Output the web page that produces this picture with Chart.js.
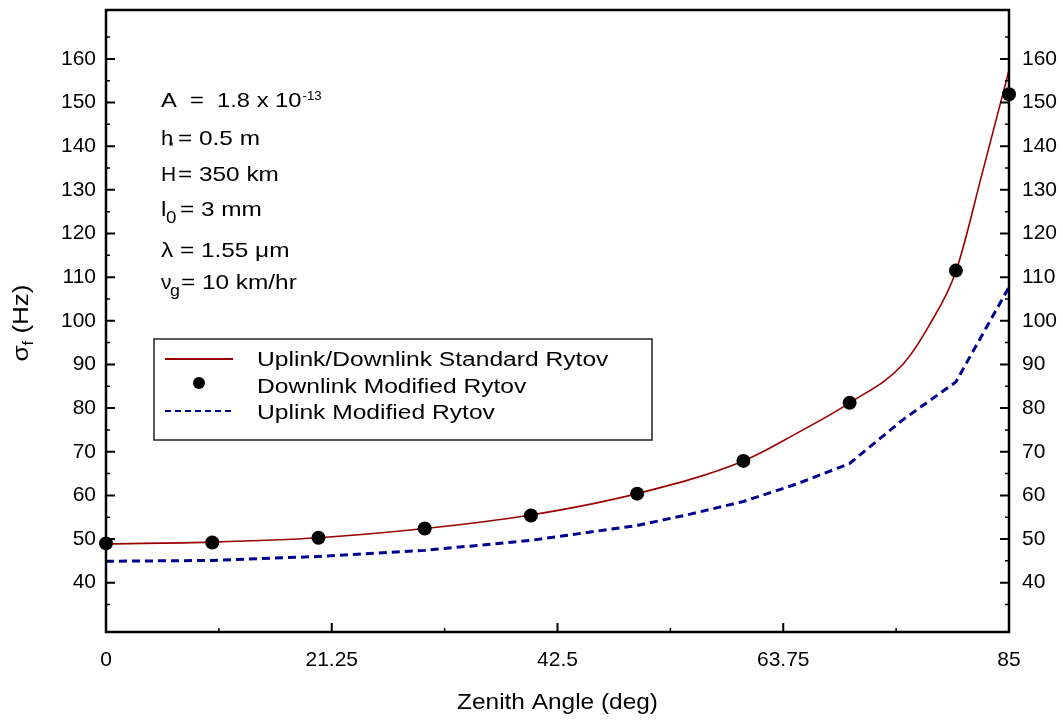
<!DOCTYPE html>
<html>
<head>
<meta charset="utf-8">
<script src="https://cdn.jsdelivr.net/npm/chart.js@4/dist/chart.umd.min.js"></script>
<style>
html,body{margin:0;padding:0;background:#fff;}
#wrap{width:1063px;height:721px;position:relative;}
</style>
</head>
<body>
<div id="wrap"><canvas id="c" width="1063" height="721"></canvas></div>
<script>
// ---- data ----
const dotAngles = [0, 10, 20, 30, 40, 50, 60, 70, 80, 85];
const downlinkModified = [49.0, 49.2, 50.3, 52.4, 55.4, 60.4, 67.9, 81.2, 111.5, 151.9];
const stdAngles = [0, 10, 20, 30, 40, 50, 60, 65, 70, 75, 77.5, 80, 82.5, 85];
const standardRytov = [48.9, 49.3, 50.3, 52.4, 55.5, 60.4, 67.9, 74.2, 81.2, 90.0, 99.0, 111.3, 134.0, 157.4];
const upAngles = [0, 10, 20, 30, 40, 50, 55, 60, 65, 70, 75, 80, 85];
const uplinkModified = [44.9, 45.1, 46.0, 47.4, 49.7, 53.1, 55.7, 58.6, 62.6, 67.3, 77.3, 86.0, 107.7];
const xTickValues = [0, 21.25, 42.5, 63.75, 85];
const xMinorValues = [10.625, 31.875, 53.125, 74.375];
const yTickValues = [40, 50, 60, 70, 80, 90, 100, 110, 120, 130, 140, 150, 160];
const yMinorValues = [35, 45, 55, 65, 75, 85, 95, 105, 115, 125, 135, 145, 155, 165];
const seriesNames = ['Uplink/Downlink Standard Rytov', 'Downlink Modified Rytov', 'Uplink Modified Rytov'];
const xTitle = 'Zenith Angle (deg)';

const FONT = "Arial, 'Liberation Sans', Helvetica, sans-serif";
Chart.defaults.font.family = FONT;
Chart.defaults.color = '#000';

const RED = '#990000', NAVY = '#000090';

function pts(xs, ys){ return xs.map((x,i)=>({x:x, y:ys[i]})); }

// draw horizontally-stretched text, returns x where it ends
function stext(ctx, s, x, y, size, sx){
  ctx.save();
  ctx.translate(x, y);
  ctx.scale(sx, 1);
  ctx.font = size + 'px ' + FONT;
  ctx.fillText(s, 0, 0);
  const w = ctx.measureText(s).width * sx;
  ctx.restore();
  return x + w;
}

const decor = {
  id: 'decor',
  afterDraw(chart){
    const ctx = chart.ctx, a = chart.chartArea;
    const sx = chart.scales.x, sy = chart.scales.y;
    ctx.save();
    // frame
    ctx.strokeStyle = '#000'; ctx.lineWidth = 2.5;
    ctx.strokeRect(a.left, a.top, a.right - a.left, a.bottom - a.top);
    // ticks
    ctx.lineWidth = 2;
    ctx.beginPath();
    yTickValues.forEach(v => { const p = sy.getPixelForValue(v);
      ctx.moveTo(a.left, p); ctx.lineTo(a.left + 9, p);
      ctx.moveTo(a.right, p); ctx.lineTo(a.right - 9, p); });
    xTickValues.forEach(v => { const p = sx.getPixelForValue(v);
      ctx.moveTo(p, a.bottom); ctx.lineTo(p, a.bottom - 9); });
    ctx.stroke();
    ctx.lineWidth = 1.5;
    ctx.beginPath();
    yMinorValues.forEach(v => { const p = sy.getPixelForValue(v);
      ctx.moveTo(a.left, p); ctx.lineTo(a.left + 4, p);
      ctx.moveTo(a.right, p); ctx.lineTo(a.right - 4, p); });
    xMinorValues.forEach(v => { const p = sx.getPixelForValue(v);
      ctx.moveTo(p, a.bottom); ctx.lineTo(p, a.bottom - 4); });
    ctx.stroke();

    ctx.fillStyle = '#000';
    ctx.textAlign = 'left';

    // x-axis title
    ctx.textBaseline = 'middle';
    ctx.font = '22px ' + FONT;
    const xtw = ctx.measureText(xTitle).width * 1.11;
    stext(ctx, xTitle, (a.left + a.right) / 2 - xtw / 2, 703, 22, 1.11);

    // y-axis title
    ctx.save();
    ctx.translate(22, 323);
    ctx.rotate(-Math.PI / 2);
    ctx.textBaseline = 'middle';
    const ysc = 1.18;
    ctx.font = '22px ' + FONT;
    const w1 = ctx.measureText('\u03c3').width * ysc;
    ctx.font = '14px ' + FONT;
    const w2 = ctx.measureText('f').width * ysc;
    ctx.font = '22px ' + FONT;
    const w3 = ctx.measureText(' (Hz)').width * ysc;
    let x0 = -(w1 + w2 + w3) / 2;
    stext(ctx, '\u03c3', x0, 0, 22, ysc);
    stext(ctx, 'f', x0 + w1, 7, 14, ysc);
    stext(ctx, ' (Hz)', x0 + w1 + w2, 0, 22, ysc);
    ctx.restore();

    // parameter text block
    ctx.textBaseline = 'alphabetic';
    const L = 161, S = 21, K = 1.16;
    let e = stext(ctx, 'A  =  1.8 x 10', L, 107, S, 1.13);
    stext(ctx, '-13', e + 1, 100, 12, 1.1);
    stext(ctx, 'h', L, 145, S, 1.05);
    stext(ctx, 'o', 169, 146, 7, 1.1);
    stext(ctx, '= 0.5 m', 178, 145, S, K);
    stext(ctx, 'H', L, 181, S, 1.0);
    stext(ctx, '= 350 km', 178, 181, S, K);
    stext(ctx, 'l', L, 216, S, K);
    stext(ctx, '0', 166, 223, 17, 1.1);
    stext(ctx, '= 3 mm', 180, 216, S, K);
    stext(ctx, '\u03bb = 1.55 \u03bcm', L, 257, S, K);
    stext(ctx, '\u03bd', L, 289, S, 1.0);
    stext(ctx, 'g', 170, 296, 17, 1.05);
    stext(ctx, '= 10 km/hr', 181, 289, S, K);

    // legend
    ctx.fillStyle = '#fff';
    ctx.fillRect(154, 339, 498, 101);
    ctx.strokeStyle = '#222'; ctx.lineWidth = 1.5;
    ctx.strokeRect(154, 339, 498, 101);
    ctx.lineWidth = 2; ctx.strokeStyle = RED; ctx.setLineDash([]);
    ctx.beginPath(); ctx.moveTo(165, 359); ctx.lineTo(233, 359); ctx.stroke();
    ctx.fillStyle = '#000';
    ctx.beginPath(); ctx.arc(199, 383, 6, 0, Math.PI * 2); ctx.fill();
    ctx.strokeStyle = NAVY; ctx.lineWidth = 2; ctx.setLineDash([6, 4]);
    ctx.beginPath(); ctx.moveTo(165, 411); ctx.lineTo(233, 411); ctx.stroke();
    ctx.setLineDash([]);
    ctx.fillStyle = '#000';
    stext(ctx, seriesNames[0], 257, 366, 20, 1.23);
    stext(ctx, seriesNames[1], 257, 393, 20, 1.23);
    stext(ctx, seriesNames[2], 257, 419, 20, 1.23);
    ctx.restore();
  }
};

const yCommon = {
  type: 'linear', min: 28.7, max: 171.2,
  afterBuildTicks: s => { s.ticks = yTickValues.map(v => ({value: v})); },
  grid: {display: false, drawTicks: false},
  border: {display: false}
};

new Chart(document.getElementById('c'), {
  type: 'line',
  data: {
    datasets: [
      {label: seriesNames[1], data: pts(dotAngles, downlinkModified), showLine: false,
       pointRadius: 7, pointBackgroundColor: '#000', pointBorderColor: '#000', pointBorderWidth: 0,
       clip: false, order: 0},
      {label: seriesNames[0], data: pts(stdAngles, standardRytov), borderColor: RED, borderWidth: 1.6,
       pointRadius: 0, cubicInterpolationMode: 'monotone', fill: false, order: 1},
      {label: seriesNames[2], data: pts(upAngles, uplinkModified), borderColor: NAVY, borderWidth: 3,
       borderDash: [8, 5], pointRadius: 0, tension: 0, fill: false, order: 2}
    ]
  },
  options: {
    responsive: false, animation: false,
    layout: {padding: {top: 10, left: 0, right: 0, bottom: 0}},
    plugins: {legend: {display: false}, tooltip: {enabled: false}},
    scales: {
      x: {
        type: 'linear', min: 0, max: 85,
        afterBuildTicks: s => { s.ticks = xTickValues.map(v => ({value: v})); },
        afterFit: s => { s.height = 89; s.paddingLeft = 0; s.paddingRight = 0; },
        grid: {display: false, drawTicks: false},
        border: {display: false},
        ticks: {font: {size: 21}, padding: 16, maxRotation: 0, autoSkip: false,
                callback: v => String(v)}
      },
      y: Object.assign({}, yCommon, {position: 'left',
        afterFit: s => { s.width = 106; s.paddingTop = 0; s.paddingBottom = 0; },
        ticks: {font: {size: 21}, autoSkip: false, padding: 10}}),
      y2: Object.assign({}, yCommon, {position: 'right',
        afterFit: s => { s.width = 54; s.paddingTop = 0; s.paddingBottom = 0; },
        ticks: {font: {size: 21}, autoSkip: false, padding: 13}})
    }
  },
  plugins: [decor]
});
</script>
</body>
</html>
